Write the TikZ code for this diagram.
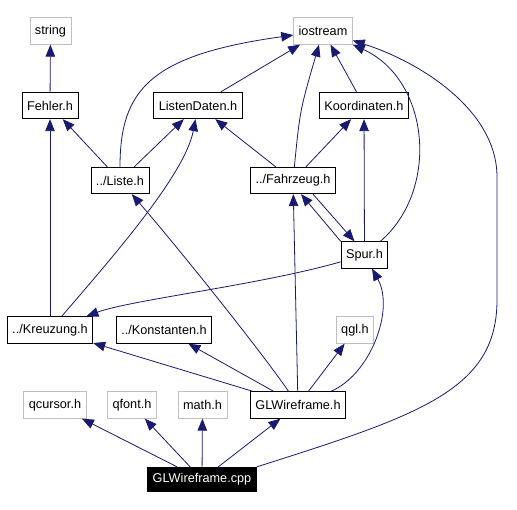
\documentclass[tikz,border=0pt]{standalone}
\usepackage{fontspec}
\setmainfont{Liberation Sans}
\usetikzlibrary{arrows.meta}
\definecolor{edgeblue}{HTML}{191970}
\definecolor{sysgray}{HTML}{BFBFBF}
\tikzset{
  hbox/.style={draw,rectangle,line width=0.8pt,inner xsep=5pt,inner ysep=0pt,minimum height=26.5pt,font=\fontsize{12.7}{15}\selectfont},
  sbox/.style={hbox,draw=sysgray},
  cbox/.style={hbox,fill=black,text=white,minimum height=24.4pt},
  dep/.style={draw=edgeblue,line width=0.8pt,-{Triangle[length=12pt,width=9.5pt]}}
}

\begin{document}
\begin{tikzpicture}[x=1pt,y=-1pt]
\useasboundingbox (0,0) rectangle (517,510);

\node[sbox] (STR) at (50.5,31) {string};
\node[sbox] (IO) at (323,31) {iostream};
\node[hbox] (FEH) at (50,105.5) {Fehler.h};
\node[hbox] (LD) at (198,105.5) {ListenDaten.h};
\node[hbox] (KO) at (364,105.5) {Koordinaten.h};
\node[hbox] (LI) at (120,180.5) {../Liste.h};
\node[hbox] (FZ) at (293,180.5) {../Fahrzeug.h};
\node[hbox] (SP) at (364.5,255) {Spur.h};
\node[hbox] (KR) at (50,330) {../Kreuzung.h};
\node[hbox] (KN) at (164,330) {../Konstanten.h};
\node[sbox] (QGL) at (355,330) {qgl.h};
\node[sbox] (QC) at (55,405) {qcursor.h};
\node[sbox] (QF) at (132,405) {qfont.h};
\node[sbox] (MA) at (202.5,405) {math.h};
\node[hbox] (GLH) at (298,405) {GLWireframe.h};
\node[cbox] (GLC) at (202,479.5) {GLWireframe.cpp};

% into iostream
\draw[dep] (FEH) -- (STR);
\draw[dep] (LD) -- (IO);
\draw[dep] (KO) -- (IO);
\draw[dep] (LI) .. controls (120,90) and (150,55) .. (IO);
\draw[dep] (FZ) .. controls (300,110) .. (IO);
\draw[dep] (SP) .. controls (440,190) and (430,80) .. (IO);
\draw[dep] (GLC.north east) .. controls (420,415) and (497,390) .. (497,300) -- (497,177) .. controls (497,110) and (420,62) .. (IO);

% headers
\draw[dep] (LI) -- (FEH);
\draw[dep] (KR) -- (FEH);
\draw[dep] (LI) -- (LD);
\draw[dep] (FZ) -- (LD);
\draw[dep] (KR) .. controls (110,260) and (185,175) .. (LD);
\draw[dep] (FZ) -- (KO);
\draw[dep] (SP) -- (KO);
\draw[dep] (SP.north west) -- ([xshift=8pt]FZ.south);
\draw[dep] ([xshift=20pt]FZ.south) -- ([xshift=-10pt]SP.north);
\draw[dep] (SP) .. controls (260,285) and (130,300) .. (KR);

% GLWireframe.h
\draw[dep] (GLH) -- (FZ);
\draw[dep] (GLH) .. controls (260,350) and (180,250) .. (LI);
\draw[dep] (GLH) -- (KR);
\draw[dep] (GLH) -- (KN);
\draw[dep] (GLH) -- (QGL);
\draw[dep] (GLH) .. controls (370,375) and (395,310) .. (SP);

% GLWireframe.cpp
\draw[dep] (GLC) -- (QC);
\draw[dep] (GLC) -- (QF);
\draw[dep] (GLC) -- (MA);
\draw[dep] (GLC) -- (GLH);
\end{tikzpicture}
\end{document}
